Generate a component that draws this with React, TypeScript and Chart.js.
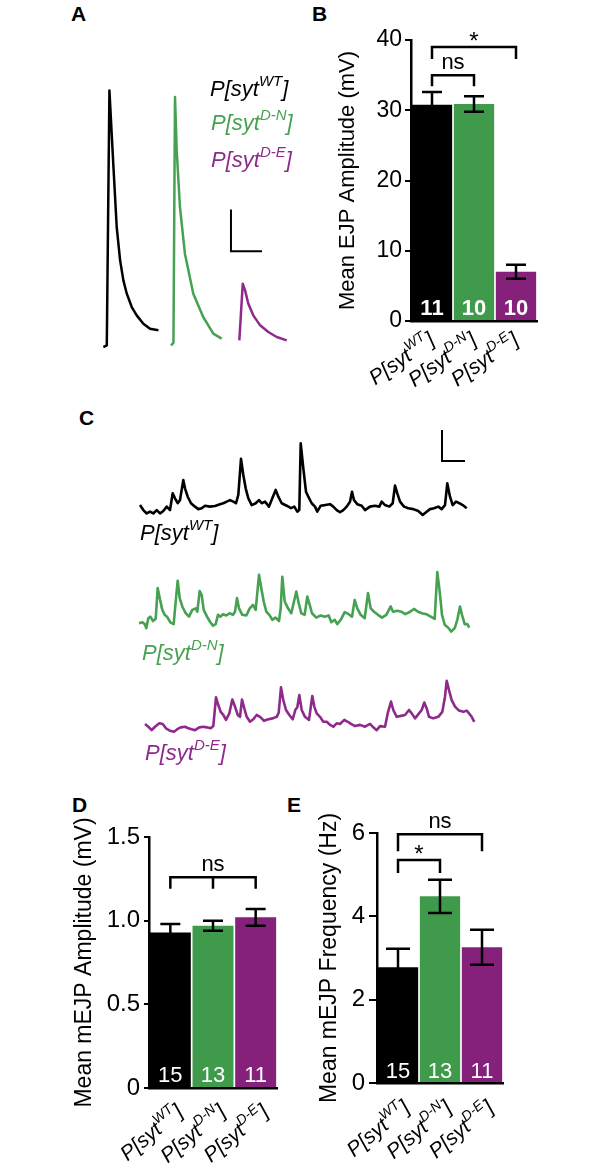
import React, { useEffect, useRef } from 'react';
import { Chart, registerables } from 'chart.js';
Chart.register(...registerables);

const FONT = '"Liberation Sans", Arial, Helvetica, sans-serif';
const BLACK = '#000000';
const GREEN = '#3f9b4b';
const PURPLE = '#86217b';
const TRACE_GREEN = '#46a151';
const TRACE_PURPLE = '#8e2a8b';

// ---------- genotypes ----------
const genotypeBase = 'P[syt';
const genotypeSup = ['WT', 'D-N', 'D-E'];
const barColors = [BLACK, GREEN, PURPLE];
const traceColors = [BLACK, TRACE_GREEN, TRACE_PURPLE];

// ---------- Panel A: evoked EJP traces [ms, mV] ----------
const ejpTraceWT = [[0, 0], [2.2, 0.2], [3.9, 30.8], [4.8, 27.6], [6.5, 21.6], [8.6, 14.4], [10.8, 10.4], [12.9, 8.0], [15.1, 6.4], [18.3, 4.8], [21.5, 3.8], [25.8, 2.8], [30.1, 2.2], [35.5, 2.0]];
const ejpTraceDN = [[0, 0.2], [1.6, 0.5], [2.6, 30.0], [3.7, 23.6], [5.8, 16.8], [9.0, 11.2], [14.4, 6.4], [20.8, 3.6], [27.3, 1.6], [32.7, 1.0]];
const ejpTraceDE = [[0, 0.8], [2.2, 7.6], [3.7, 6.8], [5.8, 5.2], [9.0, 3.8], [13.4, 2.6], [18.7, 1.8], [24.1, 1.2], [30.6, 0.8]];
const ejpTraceStartMs = [5.4, 49.0, 93.1];
const ejpScaleBar = { x: 87.7, y: 11.5, ms: 20, mV: 5 };

// ---------- Panel B: mean EJP amplitude (mV) ----------
const ejpMean = [30.8, 30.9, 7.0];
const ejpSem = [1.8, 1.1, 1.0];
const ejpN = [11, 10, 10];
const ejpBrackets = [
  { from: 0, to: 1, mids: [] as number[], level: 35.0, drop: 1.6, label: 'ns' },
  { from: 0, to: 2, mids: [] as number[], level: 39.0, drop: 1.7, label: '*' },
];

// ---------- Panel C: spontaneous mEJP traces [ms, mV] ----------
const mejpTraceWT = [[20, 0.32], [53, 0.16], [87, 0.05], [120, 0.11], [153, 0.05], [187, 0.16], [220, 0.05], [253, 0.13], [287, 0.27], [320, 0.16], [347, 0.70], [370, 0.54], [397, 0.38], [420, 0.48], [453, 1.13], [470, 0.86], [497, 0.59], [530, 0.38], [570, 0.27], [603, 0.19], [637, 0.22], [670, 0.30], [720, 0.27], [770, 0.29], [820, 0.35], [853, 0.38], [887, 0.43], [920, 0.48], [953, 0.43], [980, 0.38], [1003, 0.65], [1030, 1.81], [1053, 1.29], [1077, 0.86], [1103, 0.54], [1137, 0.32], [1177, 0.38], [1210, 0.48], [1237, 0.38], [1270, 0.43], [1310, 0.27], [1343, 0.54], [1377, 0.81], [1403, 0.59], [1437, 0.38], [1487, 0.30], [1530, 0.22], [1563, 0.27], [1593, 0.11], [1613, 0.16], [1627, 2.31], [1653, 1.51], [1680, 0.75], [1703, 0.59], [1737, 0.38], [1770, 0.27], [1793, 0.11], [1827, 0.30], [1870, 0.32], [1920, 0.35], [1953, 0.27], [1987, 0.16], [2020, 0.09], [2053, 0.16], [2087, 0.27], [2120, 0.43], [2140, 0.75], [2160, 0.48], [2193, 0.35], [2237, 0.30], [2270, 0.16], [2320, 0.27], [2370, 0.30], [2413, 0.27], [2437, 0.43], [2470, 0.32], [2513, 0.27], [2547, 0.38], [2570, 0.95], [2593, 0.70], [2620, 0.43], [2660, 0.27], [2703, 0.22], [2753, 0.19], [2803, 0.13], [2847, 0.00], [2880, 0.09], [2920, 0.19], [2960, 0.22], [3003, 0.27], [3037, 0.19], [3070, 0.32], [3093, 1.02], [3120, 0.59], [3147, 0.32], [3180, 0.43], [3213, 0.38], [3247, 0.32], [3287, 0.22]];
const mejpTraceDN = [[10, 0.28], [43, 0.31], [67, 0.25], [83, 0.12], [103, 0.44], [123, 0.49], [150, 0.35], [177, 0.42], [197, 1.41], [217, 1.09], [243, 0.71], [267, 0.55], [290, 0.49], [323, 0.31], [357, 0.25], [377, 0.98], [397, 1.65], [417, 1.09], [443, 0.82], [477, 0.60], [510, 0.49], [543, 0.71], [577, 0.76], [593, 0.65], [617, 1.32], [637, 1.19], [657, 0.71], [690, 0.49], [723, 0.31], [750, 0.20], [777, 0.25], [800, 0.55], [823, 0.49], [850, 0.57], [883, 0.53], [917, 0.60], [950, 0.55], [970, 0.65], [990, 1.09], [1010, 0.76], [1043, 0.55], [1083, 0.53], [1117, 0.76], [1150, 0.87], [1177, 0.71], [1210, 1.84], [1233, 1.41], [1257, 0.98], [1283, 0.65], [1317, 0.53], [1343, 0.39], [1377, 0.46], [1410, 0.35], [1427, 0.76], [1443, 1.78], [1467, 0.98], [1500, 0.76], [1533, 0.60], [1560, 0.98], [1583, 1.30], [1607, 0.93], [1633, 0.60], [1667, 0.55], [1693, 1.14], [1717, 0.87], [1740, 0.60], [1783, 0.46], [1827, 0.53], [1867, 0.49], [1907, 0.53], [1933, 0.31], [1967, 0.39], [1993, 0.25], [2027, 0.39], [2067, 0.64], [2107, 0.57], [2140, 0.49], [2167, 1.03], [2193, 0.76], [2227, 0.55], [2267, 0.44], [2300, 1.25], [2327, 0.76], [2360, 0.65], [2400, 0.55], [2440, 0.46], [2483, 0.55], [2527, 0.82], [2550, 0.65], [2593, 0.68], [2633, 0.65], [2673, 0.57], [2717, 0.64], [2760, 0.74], [2800, 0.65], [2840, 0.60], [2883, 0.57], [2927, 0.49], [2967, 0.42], [2993, 1.93], [3017, 1.30], [3040, 0.55], [3067, 0.23], [3100, 0.14], [3133, 0.01], [3167, 0.12], [3193, 0.39], [3220, 0.82], [3240, 0.55], [3267, 0.25], [3293, 0.25], [3313, 0.14]];
const mejpTraceDE = [[70, 0.26], [103, 0.17], [137, 0.06], [170, 0.17], [213, 0.28], [247, 0.26], [280, 0.12], [320, 0.04], [360, 0.01], [393, 0.09], [427, 0.15], [470, 0.17], [503, 0.12], [537, 0.09], [570, 0.06], [613, 0.15], [653, 0.17], [687, 0.15], [727, 0.12], [753, 0.19], [780, 1.12], [803, 0.87], [827, 0.65], [853, 0.55], [880, 0.39], [913, 0.60], [943, 1.05], [970, 0.82], [997, 0.55], [1020, 0.49], [1040, 1.05], [1063, 0.76], [1087, 0.49], [1120, 0.33], [1153, 0.41], [1187, 0.55], [1227, 0.47], [1260, 0.36], [1303, 0.41], [1347, 0.44], [1387, 0.49], [1407, 0.62], [1430, 1.44], [1453, 1.03], [1480, 0.71], [1513, 0.55], [1547, 0.41], [1573, 0.71], [1593, 0.80], [1613, 1.19], [1637, 0.71], [1670, 0.49], [1710, 0.39], [1743, 1.16], [1763, 0.82], [1787, 0.60], [1820, 0.49], [1853, 0.33], [1887, 0.33], [1920, 0.23], [1953, 0.17], [1987, 0.28], [2020, 0.26], [2063, 0.39], [2097, 0.33], [2130, 0.26], [2170, 0.19], [2220, 0.23], [2270, 0.17], [2320, 0.26], [2353, 0.15], [2387, 0.06], [2420, 0.19], [2470, 0.17], [2497, 0.60], [2530, 0.98], [2553, 0.71], [2587, 0.49], [2630, 0.52], [2670, 0.55], [2710, 0.71], [2737, 0.60], [2770, 0.44], [2810, 0.60], [2837, 0.71], [2863, 0.95], [2887, 0.76], [2910, 0.49], [2953, 0.44], [3003, 0.49], [3043, 0.65], [3070, 1.14], [3087, 1.65], [3110, 1.35], [3137, 1.03], [3170, 0.82], [3210, 0.69], [3253, 0.65], [3287, 0.69], [3310, 0.60], [3337, 0.49], [3363, 0.33]];
const mejpTraceOffsetMv = [7.0, 3.23, 0];
const mejpScaleBar = { x: 3040, y: 8.74, ms: 230, mV: 1 };

// ---------- Panel D: mean mEJP amplitude (mV) ----------
const mejpAmpMean = [0.93, 0.97, 1.02];
const mejpAmpSem = [0.05, 0.03, 0.05];
const mejpAmpN = [15, 13, 11];
const mejpAmpBrackets = [{ from: 0, to: 2, mids: [1], level: 1.26, drop: 0.07, label: 'ns' }];

// ---------- Panel E: mean mEJP frequency (Hz) ----------
const mejpFreqMean = [2.78, 4.48, 3.26];
const mejpFreqSem = [0.44, 0.40, 0.42];
const mejpFreqN = [15, 13, 11];
const mejpFreqBrackets = [
  { from: 0, to: 1, mids: [] as number[], level: 5.35, drop: 0.31, label: '*' },
  { from: 0, to: 2, mids: [] as number[], level: 5.97, drop: 0.41, label: 'ns' },
];

type Bracket = { from: number; to: number; mids: number[]; level: number; drop: number; label: string };

function drawGenotype(ctx: CanvasRenderingContext2D, sup: string, x: number, y: number, angle: number, size: number) {
  ctx.save();
  ctx.translate(x, y);
  ctx.rotate((-angle * Math.PI) / 180);
  const mainFont = `italic ${size}px ${FONT}`;
  const supSize = Math.round(size * 0.68);
  const supFont = `italic ${supSize}px ${FONT}`;
  ctx.font = mainFont;
  const w1 = ctx.measureText(genotypeBase).width;
  const w3 = ctx.measureText(']').width;
  ctx.font = supFont;
  const w2 = ctx.measureText(sup).width;
  let cx = -(w1 + w2 + w3);
  ctx.textAlign = 'left';
  ctx.textBaseline = 'alphabetic';
  ctx.fillStyle = '#000';
  ctx.font = mainFont;
  ctx.fillText(genotypeBase, cx, 0);
  cx += w1;
  ctx.font = supFont;
  ctx.fillText(sup, cx, -size * 0.45);
  cx += w2;
  ctx.font = mainFont;
  ctx.fillText(']', cx, 0);
  ctx.restore();
}

type BarPanelProps = {
  left: number; top: number; width: number; height: number;
  means: number[]; sems: number[]; ns: number[];
  yMax: number; yStep: number; tickFmt: (v: number) => string;
  title: string; titleSize: number; tickSize: number;
  yAxisWidth: number; xAxisHeight: number; padTop: number; padRight: number;
  tickLength: number; tickPad: number;
  labelAngle: number; labelDx: number; labelDy: number; labelSize: number;
  brackets: Bracket[]; nBold: boolean; nSize: number; nLift: number; capHalf: number;
};

function BarPanel(p: BarPanelProps) {
  const ref = useRef<HTMLCanvasElement>(null);
  useEffect(() => {
    if (!ref.current) return;
    const overlay = {
      id: 'overlay',
      afterDatasetsDraw(chart: any) {
        const ctx: CanvasRenderingContext2D = chart.ctx;
        const xs = chart.scales.x;
        const ys = chart.scales.y;
        ctx.save();
        ctx.strokeStyle = '#000';
        ctx.lineWidth = 2.5;
        ctx.lineCap = 'butt';
        p.means.forEach((m, i) => {
          const x = xs.getPixelForValue(i);
          const yt = ys.getPixelForValue(m + p.sems[i]);
          const yb = ys.getPixelForValue(m - p.sems[i]);
          ctx.beginPath();
          ctx.moveTo(x, yt); ctx.lineTo(x, yb);
          ctx.moveTo(x - p.capHalf, yt); ctx.lineTo(x + p.capHalf, yt);
          ctx.moveTo(x - p.capHalf, yb); ctx.lineTo(x + p.capHalf, yb);
          ctx.stroke();
        });
        ctx.fillStyle = '#fff';
        ctx.font = `${p.nBold ? 'bold ' : ''}${p.nSize}px ${FONT}`;
        ctx.textAlign = 'center';
        ctx.textBaseline = 'alphabetic';
        p.ns.forEach((n, i) => ctx.fillText(String(n), xs.getPixelForValue(i), ys.bottom - p.nLift));
        p.brackets.forEach((b) => {
          const yl = ys.getPixelForValue(b.level);
          const yd = ys.getPixelForValue(b.level - b.drop);
          const x1 = xs.getPixelForValue(b.from);
          const x2 = xs.getPixelForValue(b.to);
          ctx.beginPath();
          ctx.moveTo(x1, yd); ctx.lineTo(x1, yl); ctx.lineTo(x2, yl); ctx.lineTo(x2, yd);
          b.mids.forEach((mi) => { const xm = xs.getPixelForValue(mi); ctx.moveTo(xm, yl); ctx.lineTo(xm, yd); });
          ctx.stroke();
          ctx.fillStyle = '#000';
          const star = b.label === '*';
          ctx.font = `${star ? 24 : 22}px ${FONT}`;
          ctx.fillText(b.label, (x1 + x2) / 2, yl - (star ? -2 : 6));
        });
        genotypeSup.forEach((s, i) => {
          drawGenotype(ctx, s, xs.getPixelForValue(i) + p.labelDx, ys.bottom + p.labelDy, p.labelAngle, p.labelSize);
        });
        ctx.restore();
      },
    };
    const chart = new Chart(ref.current, {
      type: 'bar',
      data: {
        labels: genotypeSup,
        datasets: [{ data: p.means, backgroundColor: barColors, borderWidth: 0, barPercentage: 0.96, categoryPercentage: 1 }],
      },
      options: {
        responsive: false,
        animation: false,
        devicePixelRatio: 1,
        layout: { padding: { top: p.padTop, right: p.padRight, left: 0, bottom: 0 } },
        plugins: { legend: { display: false }, tooltip: { enabled: false } },
        scales: {
          x: {
            grid: { display: false },
            border: { display: true, color: '#000', width: 2.5 },
            ticks: { display: false },
            afterFit: (s: any) => { s.height = p.xAxisHeight; },
          },
          y: {
            min: 0,
            max: p.yMax,
            ticks: { stepSize: p.yStep, color: '#000', font: { family: FONT, size: p.tickSize }, padding: p.tickPad, callback: (v: any) => p.tickFmt(Number(v)) },
            grid: { drawOnChartArea: false, drawTicks: true, tickLength: p.tickLength, color: '#000', lineWidth: 2 },
            border: { display: true, color: '#000', width: 2.5 },
            title: { display: true, text: p.title, color: '#000', font: { family: FONT, size: p.titleSize }, padding: 0 },
            afterFit: (s: any) => { s.width = p.yAxisWidth; },
          },
        },
      } as any,
      plugins: [overlay],
    });
    return () => chart.destroy();
  }, []);
  return (
    <div style={{ position: 'absolute', left: p.left, top: p.top, width: p.width, height: p.height }}>
      <canvas ref={ref} width={p.width} height={p.height} />
    </div>
  );
}

type TraceSet = { points: number[][]; color: string; dx: number; dy: number };
type TracePanelProps = {
  left: number; top: number; width: number; height: number;
  traces: TraceSet[]; bar: { x: number; y: number; ms: number; mV: number };
  xMin: number; xMax: number; yMin: number; yMax: number; lineWidth: number;
};

function TracePanel(p: TracePanelProps) {
  const ref = useRef<HTMLCanvasElement>(null);
  useEffect(() => {
    if (!ref.current) return;
    const datasets: any[] = p.traces.map((t) => ({
      data: t.points.map(([x, y]) => ({ x: x + t.dx, y: y + t.dy })),
      borderColor: t.color,
      borderWidth: p.lineWidth,
      pointRadius: 0,
      tension: 0,
      fill: false,
      clip: false,
      borderJoinStyle: 'round',
    }));
    datasets.push({
      data: [
        { x: p.bar.x, y: p.bar.y + p.bar.mV },
        { x: p.bar.x, y: p.bar.y },
        { x: p.bar.x + p.bar.ms, y: p.bar.y },
      ],
      borderColor: '#000',
      borderWidth: 2,
      pointRadius: 0,
      tension: 0,
      fill: false,
      clip: false,
      borderJoinStyle: 'miter',
    });
    const chart = new Chart(ref.current, {
      type: 'line',
      data: { datasets },
      options: {
        responsive: false,
        animation: false,
        devicePixelRatio: 1,
        layout: { padding: 0 },
        plugins: { legend: { display: false }, tooltip: { enabled: false } },
        scales: {
          x: { type: 'linear', display: false, min: p.xMin, max: p.xMax },
          y: { type: 'linear', display: false, min: p.yMin, max: p.yMax },
        },
      } as any,
    });
    return () => chart.destroy();
  }, []);
  return (
    <div style={{ position: 'absolute', left: p.left, top: p.top, width: p.width, height: p.height }}>
      <canvas ref={ref} width={p.width} height={p.height} />
    </div>
  );
}

function Genotype({ sup, color, left, baseline, size }: { sup: string; color: string; left: number; baseline: number; size: number }) {
  return (
    <div style={{ position: 'absolute', left, top: baseline - size * 0.846, fontFamily: FONT, fontStyle: 'italic', fontSize: size, lineHeight: 1, color, whiteSpace: 'nowrap' }}>
      {genotypeBase}
      <sup style={{ fontSize: Math.round(size * 0.68), verticalAlign: `${Math.round(size * 0.45)}px`, lineHeight: 0 }}>{sup}</sup>]
    </div>
  );
}

function PanelLetter({ text, left, baseline, size }: { text: string; left: number; baseline: number; size: number }) {
  return (
    <div style={{ position: 'absolute', left, top: baseline - size * 0.846, fontFamily: FONT, fontWeight: 'bold', fontSize: size, lineHeight: 1, color: '#000' }}>{text}</div>
  );
}

export default function App() {
  return (
    <div style={{ position: 'absolute', left: 0, top: 0, width: 609, height: 1174, background: '#fff', overflow: 'hidden' }}>
      <PanelLetter text="A" left={71} baseline={21} size={21} />
      <PanelLetter text="B" left={312} baseline={21} size={21} />
      <PanelLetter text="C" left={79} baseline={425} size={21} />
      <PanelLetter text="D" left={72} baseline={812} size={21} />
      <PanelLetter text="E" left={287} baseline={812} size={21} />

      <TracePanel
        left={95} top={70} width={200} height={290}
        traces={[
          { points: ejpTraceWT, color: traceColors[0], dx: ejpTraceStartMs[0], dy: 0 },
          { points: ejpTraceDN, color: traceColors[1], dx: ejpTraceStartMs[1], dy: 0 },
          { points: ejpTraceDE, color: traceColors[2], dx: ejpTraceStartMs[2], dy: 0 },
        ]}
        bar={ejpScaleBar}
        xMin={0} xMax={129} yMin={-1.56} yMax={33.25} lineWidth={2.5}
      />
      <Genotype sup={genotypeSup[0]} color={traceColors[0]} left={210} baseline={97} size={22} />
      <Genotype sup={genotypeSup[1]} color={traceColors[1]} left={211} baseline={131} size={22} />
      <Genotype sup={genotypeSup[2]} color={traceColors[2]} left={211} baseline={168} size={22} />

      <BarPanel
        left={335} top={15} width={225} height={385}
        means={ejpMean} sems={ejpSem} ns={ejpN}
        yMax={40} yStep={10} tickFmt={(v) => String(v)}
        title="Mean EJP Amplitude (mV)" titleSize={22} tickSize={23}
        yAxisWidth={76} xAxisHeight={79} padTop={25} padRight={23}
        tickLength={6} tickPad={3}
        labelAngle={35} labelDx={4} labelDy={22} labelSize={21}
        brackets={ejpBrackets} nBold={true} nSize={22} nLift={6} capHalf={10}
      />

      <TracePanel
        left={130} top={420} width={350} height={320}
        traces={[
          { points: mejpTraceWT, color: traceColors[0], dx: 0, dy: mejpTraceOffsetMv[0] },
          { points: mejpTraceDN, color: traceColors[1], dx: 0, dy: mejpTraceOffsetMv[1] },
          { points: mejpTraceDE, color: traceColors[2], dx: 0, dy: mejpTraceOffsetMv[2] },
        ]}
        bar={mejpScaleBar}
        xMin={-80} xMax={3420} yMin={-0.258} yMax={10.065} lineWidth={2.6}
      />
      <Genotype sup={genotypeSup[0]} color={traceColors[0]} left={140} baseline={541} size={22} />
      <Genotype sup={genotypeSup[1]} color={traceColors[1]} left={142} baseline={661} size={22} />
      <Genotype sup={genotypeSup[2]} color={traceColors[2]} left={145} baseline={761} size={22} />

      <BarPanel
        left={71} top={800} width={224} height={374}
        means={mejpAmpMean} sems={mejpAmpSem} ns={mejpAmpN}
        yMax={1.5} yStep={0.5} tickFmt={(v) => (v === 0 ? '0' : v.toFixed(1))}
        title="Mean mEJP Amplitude (mV)" titleSize={23} tickSize={24}
        yAxisWidth={78} xAxisHeight={86} padTop={37} padRight={18}
        tickLength={5} tickPad={4}
        labelAngle={40} labelDx={14} labelDy={26} labelSize={21}
        brackets={mejpAmpBrackets} nBold={false} nSize={22} nLift={6} capHalf={10}
      />

      <BarPanel
        left={316} top={800} width={244} height={374}
        means={mejpFreqMean} sems={mejpFreqSem} ns={mejpFreqN}
        yMax={6} yStep={2} tickFmt={(v) => String(v)}
        title="Mean mEJP Frequency (Hz)" titleSize={23} tickSize={24}
        yAxisWidth={61} xAxisHeight={91} padTop={33} padRight={57}
        tickLength={8} tickPad={4}
        labelAngle={40} labelDx={13} labelDy={27} labelSize={21}
        brackets={mejpFreqBrackets} nBold={false} nSize={22} nLift={5} capHalf={12}
      />
    </div>
  );
}
